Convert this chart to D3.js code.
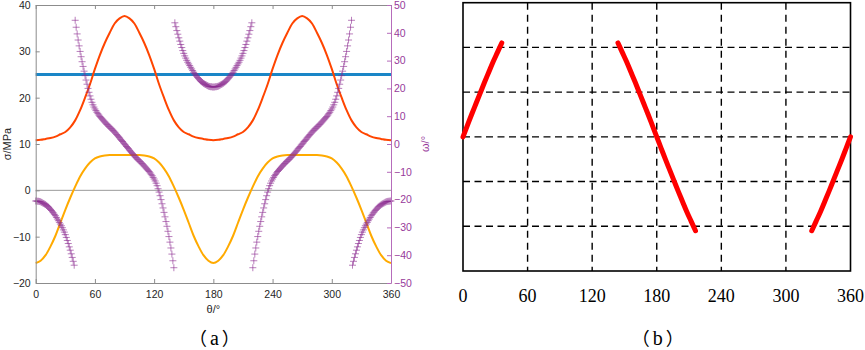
<!DOCTYPE html>
<html>
<head>
<meta charset="utf-8">
<script src="https://cdn.jsdelivr.net/npm/d3@7"></script>
<style>
  body { margin: 0; background: #fff; }
  svg { display: block; }
</style>
</head>
<body>
<div id="chart"></div>
<script>
// ---- data ----
// panel (a): sigma curves sampled every 5 deg, theta 0..360
const sigmaTheta = d3.range(0, 361, 5);
const sigmaRed = [
  10.8, 10.9, 11.1, 11.3, 11.6, 12.1, 12.6, 13.6, 15.1, 17.3, 20.0, 22.9, 26.2, 29.2, 31.8, 34.0, 36.0, 37.1, 37.6,
  37.1, 36.0, 34.0, 31.8, 29.2, 26.2, 22.9, 20.0, 17.3, 15.1, 13.6, 12.6, 12.1, 11.6, 11.3, 11.1, 10.9, 10.8,
  10.9, 11.1, 11.3, 11.6, 12.1, 12.6, 13.6, 15.1, 17.3, 20.0, 22.9, 26.2, 29.2, 31.8, 34.0, 36.0, 37.1, 37.6,
  37.1, 36.0, 34.0, 31.8, 29.2, 26.2, 22.9, 20.0, 17.3, 15.1, 13.6, 12.6, 12.1, 11.6, 11.3, 11.1, 10.9, 10.8
];
const sigmaOrange = [
  -15.7, -15.2, -14.0, -12.1, -9.8, -7.0, -4.2, -1.6, 0.8, 3.0, 4.7, 6.0, 6.9, 7.3, 7.5, 7.6, 7.6, 7.6, 7.6,
  7.6, 7.6, 7.6, 7.5, 7.3, 6.9, 6.0, 4.7, 3.0, 0.8, -1.6, -4.2, -7.0, -9.8, -12.1, -14.0, -15.2, -15.7,
  -15.2, -14.0, -12.1, -9.8, -7.0, -4.2, -1.6, 0.8, 3.0, 4.7, 6.0, 6.9, 7.3, 7.5, 7.6, 7.6, 7.6, 7.6,
  7.6, 7.6, 7.6, 7.5, 7.3, 6.9, 6.0, 4.7, 3.0, 0.8, -1.6, -4.2, -7.0, -9.8, -12.1, -14.0, -15.2, -15.7
];
const blueTheta = [0, 360];
const blueSigma = [25, 25];

// omega (deg), one marker per degree, five branches
const omegaStart = [0, 40, 141, 220, 321];
const omegaA = [
  -20.5, -20.5, -20.6, -20.6, -20.7, -20.8, -21.0, -21.2, -21.4, -21.6, -21.8, -22.1, -22.4, -22.7, -23.1, -23.5,
  -23.9, -24.4, -24.8, -25.3, -25.8, -26.4, -27.0, -27.6, -28.2, -28.8, -29.4, -30.1, -30.9, -31.7, -32.6, -33.6,
  -34.7, -35.8, -37.0, -38.2, -39.5, -40.8, -42.2, -43.6
];
const omegaB = [
  44.5, 42.0, 39.6, 37.4, 35.3, 33.3, 31.4, 29.6, 27.9, 26.2, 24.6, 23.0, 21.5, 20.0, 18.6, 17.3, 16.1, 15.0,
  14.1, 13.3, 12.6, 12.0, 11.4, 10.9, 10.4, 9.9, 9.5, 9.1, 8.7, 8.3, 7.9, 7.5, 7.1, 6.8, 6.4, 6.1, 5.7, 5.4,
  5.0, 4.7, 4.3, 3.9, 3.4, 3.0, 2.6, 2.2, 1.7, 1.3, 0.9, 0.4, 0,
  -0.4, -0.9, -1.3, -1.7, -2.2, -2.6, -3.0, -3.4, -3.9, -4.3, -4.7, -5.0, -5.4, -5.7, -6.1, -6.4, -6.8, -7.1,
  -7.5, -7.9, -8.3, -8.7, -9.1, -9.5, -9.9, -10.4, -10.9, -11.4, -12.0, -12.6, -13.3, -14.1, -15.0, -16.1,
  -17.3, -18.6, -20.0, -21.5, -23.0, -24.6, -26.2, -27.9, -29.6, -31.4, -33.3, -35.3, -37.4, -39.6, -42.0, -44.5
];
const omegaC = [
  43.6, 42.2, 40.8, 39.5, 38.2, 37.0, 35.8, 34.7, 33.6, 32.6, 31.7, 30.9, 30.1, 29.4, 28.8, 28.2, 27.6, 27.0,
  26.4, 25.8, 25.3, 24.8, 24.4, 23.9, 23.5, 23.1, 22.7, 22.4, 22.1, 21.8, 21.6, 21.4, 21.2, 21.0, 20.8, 20.7,
  20.6, 20.6, 20.5, 20.5,
  20.5, 20.6, 20.6, 20.7, 20.8, 21.0, 21.2, 21.4, 21.6, 21.8, 22.1, 22.4, 22.7, 23.1, 23.5, 23.9, 24.4, 24.8,
  25.3, 25.8, 26.4, 27.0, 27.6, 28.2, 28.8, 29.4, 30.1, 30.9, 31.7, 32.6, 33.6, 34.7, 35.8, 37.0, 38.2, 39.5,
  40.8, 42.2, 43.6
];
const omegaD = [
  -44.5, -42.0, -39.6, -37.4, -35.3, -33.3, -31.4, -29.6, -27.9, -26.2, -24.6, -23.0, -21.5, -20.0, -18.6, -17.3,
  -16.1, -15.0, -14.1, -13.3, -12.6, -12.0, -11.4, -10.9, -10.4, -9.9, -9.5, -9.1, -8.7, -8.3, -7.9, -7.5, -7.1,
  -6.8, -6.4, -6.1, -5.7, -5.4, -5.0, -4.7, -4.3, -3.9, -3.4, -3.0, -2.6, -2.2, -1.7, -1.3, -0.9, -0.4, 0,
  0.4, 0.9, 1.3, 1.7, 2.2, 2.6, 3.0, 3.4, 3.9, 4.3, 4.7, 5.0, 5.4, 5.7, 6.1, 6.4, 6.8, 7.1, 7.5, 7.9, 8.3, 8.7,
  9.1, 9.5, 9.9, 10.4, 10.9, 11.4, 12.0, 12.6, 13.3, 14.1, 15.0, 16.1, 17.3, 18.6, 20.0, 21.5, 23.0, 24.6, 26.2,
  27.9, 29.6, 31.4, 33.3, 35.3, 37.4, 39.6, 42.0, 44.5
];
const omegaE = [
  -43.6, -42.2, -40.8, -39.5, -38.2, -37.0, -35.8, -34.7, -33.6, -32.6, -31.7, -30.9, -30.1, -29.4, -28.8, -28.2,
  -27.6, -27.0, -26.4, -25.8, -25.3, -24.8, -24.4, -23.9, -23.5, -23.1, -22.7, -22.4, -22.1, -21.8, -21.6, -21.4,
  -21.2, -21.0, -20.8, -20.7, -20.6, -20.6, -20.5, -20.5
];

// panel (b): red curve, three pieces, sampled every 4 deg
const bStart = [0, 144, 324];
const bSeg1 = [0, 0.25, 0.50, 0.74, 0.98, 1.22, 1.45, 1.68, 1.89, 2.10];
const bSeg2 = [2.10, 1.89, 1.68, 1.45, 1.22, 0.98, 0.74, 0.50, 0.25, 0, -0.25, -0.50, -0.74, -0.98, -1.22, -1.45, -1.68, -1.89, -2.10];
const bSeg3 = [-2.10, -1.89, -1.68, -1.45, -1.22, -0.98, -0.74, -0.50, -0.25, 0];

const thetaTicks = [0, 60, 120, 180, 240, 300, 360];
const sigmaTicks = [-20, -10, 0, 10, 20, 30, 40];
const omegaTicks = [-50, -40, -30, -20, -10, 0, 10, 20, 30, 40, 50];
const bGridY = [-2, -1, 0, 1, 2];

// ---- layout ----
const W = 865, H = 350;
const svg = d3.select('#chart').append('svg')
  .attr('width', W).attr('height', H)
  .style('background', '#fff');

const sansFont = '"Liberation Sans", Arial, sans-serif';
const serifFont = '"Liberation Serif", "Times New Roman", serif';
const cjkFont = '"Noto Sans CJK SC", sans-serif';
const purple = '#973a9b';

// ===== panel (a) =====
const xA = d3.scaleLinear().domain([0, 360]).range([35.7, 391]);
const ySig = d3.scaleLinear().domain([-20, 40]).range([283, 5]);
const yOm = d3.scaleLinear().domain([-50, 50]).range([283, 5]);

const gA = svg.append('g');

// zero line
gA.append('line')
  .attr('x1', xA(0)).attr('x2', xA(360))
  .attr('y1', ySig(0)).attr('y2', ySig(0))
  .attr('stroke', '#9a9a9a').attr('stroke-width', 1);

const sigLine = d3.line()
  .x(d => xA(d[0]))
  .y(d => ySig(d[1]))
  .curve(d3.curveCatmullRom.alpha(0.5));

gA.append('path')
  .datum(blueTheta.map((t, i) => [t, blueSigma[i]]))
  .attr('d', sigLine)
  .attr('fill', 'none').attr('stroke', '#1a86c7').attr('stroke-width', 3);

gA.append('path')
  .datum(sigmaTheta.map((t, i) => [t, sigmaRed[i]]))
  .attr('d', sigLine)
  .attr('fill', 'none').attr('stroke', '#ff4500').attr('stroke-width', 2);

gA.append('path')
  .datum(sigmaTheta.map((t, i) => [t, sigmaOrange[i]]))
  .attr('d', sigLine)
  .attr('fill', 'none').attr('stroke', '#ffaa00').attr('stroke-width', 2);

// omega markers
const omegaPts = [];
[omegaA, omegaB, omegaC, omegaD, omegaE].forEach((seg, k) => {
  seg.forEach((w, i) => omegaPts.push([omegaStart[k] + i, w]));
});
const cross = 3.5;
gA.append('g')
  .selectAll('path')
  .data(omegaPts)
  .enter().append('path')
  .attr('d', d => {
    const x = xA(d[0]), y = yOm(d[1]);
    return `M${x - cross},${y}H${x + cross}M${x},${y - cross}V${y + cross}`;
  })
  .attr('stroke', '#8a2a90')
  .attr('stroke-opacity', 0.6)
  .attr('stroke-width', 1);

// axes
const axisGray = '#8c8c8c';
function styleAxis(g, lineColor, textColor) {
  g.select('.domain').attr('stroke', lineColor);
  g.selectAll('.tick line').attr('stroke', lineColor);
  g.selectAll('text')
    .attr('fill', textColor)
    .style('font-family', sansFont)
    .style('font-size', '10.5px');
}

const axL = gA.append('g')
  .attr('transform', `translate(${xA(0)},0)`)
  .call(d3.axisLeft(ySig).tickValues(sigmaTicks).tickSizeInner(-4).tickSizeOuter(0).tickPadding(5));
styleAxis(axL, axisGray, '#262626');

const axB = gA.append('g')
  .attr('transform', `translate(0,${ySig(-20)})`)
  .call(d3.axisBottom(xA).tickValues(thetaTicks).tickSizeInner(-4).tickSizeOuter(0).tickPadding(8));
styleAxis(axB, axisGray, '#262626');

const axT = gA.append('g')
  .attr('transform', `translate(0,${ySig(40)})`)
  .call(d3.axisTop(xA).tickValues(thetaTicks).tickSizeInner(-4).tickSizeOuter(0).tickFormat(''));
styleAxis(axT, axisGray, '#262626');

const axR = gA.append('g')
  .attr('transform', `translate(${xA(360)},0)`)
  .call(d3.axisRight(yOm).tickValues(omegaTicks).tickSizeInner(-4).tickSizeOuter(0).tickPadding(3));
styleAxis(axR, '#b66cbb', purple);

// axis titles
gA.append('text')
  .attr('x', xA(180)).attr('y', 313)
  .attr('text-anchor', 'middle')
  .style('font-family', sansFont).style('font-size', '11px')
  .attr('fill', '#262626')
  .text('θ/°');

gA.append('text')
  .attr('transform', `translate(10.5,${ySig(10)}) rotate(-90)`)
  .attr('text-anchor', 'middle')
  .style('font-family', sansFont).style('font-size', '11px')
  .attr('fill', '#262626')
  .text('σ/MPa');

gA.append('text')
  .attr('transform', `translate(429,${yOm(0)}) rotate(-90)`)
  .attr('text-anchor', 'middle')
  .style('font-family', sansFont).style('font-size', '11px')
  .attr('fill', purple)
  .text('ω/°');

// "（a）" style caption: wide full-width brackets around a serif letter
function panelLabel(g, x, letter) {
  const t = g.append('text')
    .attr('x', x).attr('y', 345)
    .attr('text-anchor', 'middle')
    .style('font-size', '18px')
    .attr('fill', '#000');
  t.append('tspan').style('font-family', cjkFont).text('（');
  t.append('tspan').attr('dx', 3).style('font-family', serifFont).style('font-size', '20px').text(letter);
  t.append('tspan').attr('dx', 3).style('font-family', cjkFont).text('）');
}
panelLabel(gA, xA(180) + 1, 'a');

// ===== panel (b) =====
const xB = d3.scaleLinear().domain([0, 360]).range([463, 850.5]);
const yB = d3.scaleLinear().domain([-3, 3]).range([271, 2.7]);
const gB = svg.append('g');

// dashed grid
gB.append('g')
  .selectAll('line')
  .data(thetaTicks.slice(1, -1))
  .enter().append('line')
  .attr('x1', d => xB(d)).attr('x2', d => xB(d))
  .attr('y1', yB(3)).attr('y2', yB(-3))
  .attr('stroke', '#000').attr('stroke-width', 1.4)
  .attr('stroke-dasharray', '7,5');

gB.append('g')
  .selectAll('line')
  .data(bGridY)
  .enter().append('line')
  .attr('x1', xB(0)).attr('x2', xB(360))
  .attr('y1', d => yB(d)).attr('y2', d => yB(d))
  .attr('stroke', '#000').attr('stroke-width', 1.4)
  .attr('stroke-dasharray', '7,4.5');

// border
gB.append('rect')
  .attr('x', xB(0)).attr('y', yB(3))
  .attr('width', xB(360) - xB(0)).attr('height', yB(-3) - yB(3))
  .attr('fill', 'none').attr('stroke', '#000').attr('stroke-width', 1.6);

// red curve
const bLine = d3.line()
  .x(d => xB(d[0]))
  .y(d => yB(d[1]))
  .curve(d3.curveMonotoneX);

[bSeg1, bSeg2, bSeg3].forEach((seg, k) => {
  gB.append('path')
    .datum(seg.map((v, i) => [bStart[k] + i * 4, v]))
    .attr('d', bLine)
    .attr('fill', 'none')
    .attr('stroke', '#ff0000')
    .attr('stroke-width', 5)
    .attr('stroke-linecap', 'round');
});

// x tick labels
gB.append('g')
  .selectAll('text')
  .data(thetaTicks)
  .enter().append('text')
  .attr('x', d => xB(d))
  .attr('y', 301.5)
  .attr('text-anchor', 'middle')
  .style('font-family', serifFont).style('font-size', '18px')
  .attr('fill', '#000')
  .text(d => d);

panelLabel(gB, xB(180) + 1, 'b');
</script>
</body>
</html>
